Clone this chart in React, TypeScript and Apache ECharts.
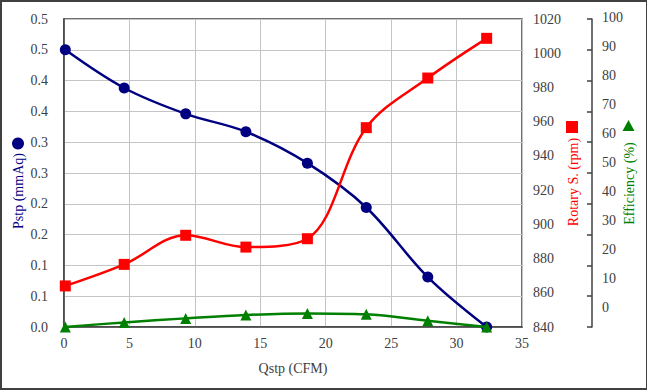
import React, { useEffect, useRef } from "react";
import * as echarts from "echarts";

// ---- data ----
const qstp = [0.1, 4.6, 9.3, 13.9, 18.6, 23.1, 27.8, 32.3];
const pstp = [0.45, 0.388, 0.346, 0.317, 0.266, 0.194, 0.081, 0.0];
const rpm = [864, 876.6, 893.6, 886.7, 891.6, 956.5, 985.5, 1008.7];
const efficiency = [0.0, 1.5, 2.8, 3.9, 4.4, 4.1, 2.0, 0.0];

const pstpTickLabels = ["0.0", "0.1", "0.1", "0.2", "0.2", "0.3", "0.3", "0.4", "0.4", "0.5", "0.5"];
const effTickValues = [0, 10, 20, 30, 40, 50, 60, 70, 80, 90, 100];

const FONT = "Liberation Serif";
const NAVY = "#000080";
const RED = "#FF0000";
const GREEN = "#008000";
const AXIS = "#404040";
const GRIDC = "#c4c4c4";

export default function App() {
  const ref = useRef<HTMLDivElement>(null);

  useEffect(() => {
    if (!ref.current) return;
    const chart = echarts.init(ref.current, undefined, { renderer: "svg" });
    const labelStyle = { fontFamily: FONT, fontSize: 14, color: AXIS };
    // efficiency labels drift upward relative to their ticks (as in the reference)
    const effRich: any = {};
    effTickValues.forEach((v) => {
      const d = 2 + 0.18 * (100 - v);
      effRich["e" + v] = { fontFamily: FONT, fontSize: 14, color: AXIS, padding: [0, 0, 2 * d, 0] };
    });
    const option: any = {
      animation: false,
      backgroundColor: "#ffffff",
      textStyle: { fontFamily: FONT, fontSize: 14, color: AXIS },
      grid: {
        left: 64,
        right: 125,
        top: 19,
        bottom: 63,
        show: true,
        borderColor: AXIS,
        borderWidth: 1.5,
        backgroundColor: "transparent",
      },
      xAxis: {
        type: "value",
        min: 0,
        max: 35,
        interval: 5,
        axisLine: { show: true, onZero: false, lineStyle: { color: AXIS, width: 1.5 } },
        axisTick: { show: false },
        axisLabel: { ...labelStyle, margin: 9, formatter: (v: number) => String(v) },
        splitLine: { show: true, lineStyle: { color: GRIDC, width: 1 } },
        name: "Qstp (CFM)",
        nameLocation: "middle",
        nameGap: 34,
        nameTextStyle: { fontFamily: FONT, fontSize: 14, color: AXIS },
      },
      yAxis: [
        {
          type: "value",
          min: 0,
          max: 0.5,
          interval: 0.05,
          position: "left",
          axisLine: { show: true, lineStyle: { color: AXIS, width: 1.5 } },
          axisTick: { show: false },
          axisLabel: {
            ...labelStyle,
            margin: 16,
            formatter: (v: number) => pstpTickLabels[Math.round(v / 0.05)] ?? "",
          },
          splitLine: { show: true, lineStyle: { color: GRIDC, width: 1 } },
        },
        {
          type: "value",
          min: 840,
          max: 1020,
          interval: 20,
          position: "right",
          axisLine: { show: false },
          axisTick: { show: false },
          axisLabel: { ...labelStyle, margin: 11, formatter: (v: number) => String(v) },
          splitLine: { show: false },
        },
        {
          type: "value",
          min: 0,
          max: 100,
          interval: 10,
          position: "right",
          offset: 70,
          axisLine: { show: true, lineStyle: { color: AXIS, width: 1.5 } },
          axisTick: { show: true, inside: true, length: 5, lineStyle: { color: AXIS, width: 1.5 } },
          axisLabel: {
            ...labelStyle,
            margin: 10,
            formatter: (v: number) => `{e${Math.round(v)}|${Math.round(v)}}`,
            rich: effRich,
          },
          splitLine: { show: false },
        },
      ],
      series: [
        {
          name: "Pstp (mmAq)",
          type: "line",
          yAxisIndex: 0,
          smooth: 0.35,
          data: qstp.map((q, i) => [q, pstp[i]]),
          symbol: "circle",
          symbolSize: 11,
          lineStyle: { color: NAVY, width: 2.5 },
          itemStyle: { color: NAVY },
          z: 3,
        },
        {
          name: "Rotary S. (rpm)",
          type: "line",
          yAxisIndex: 1,
          smooth: 0.35,
          data: qstp.map((q, i) => [q, rpm[i]]),
          symbol: "rect",
          symbolSize: 11,
          lineStyle: { color: RED, width: 2.5 },
          itemStyle: { color: RED },
          z: 4,
        },
        {
          name: "Efficiency (%)",
          type: "line",
          yAxisIndex: 2,
          smooth: 0.35,
          data: qstp.map((q, i) => [q, efficiency[i]]),
          symbol: "triangle",
          symbolSize: 11,
          lineStyle: { color: GREEN, width: 2.5 },
          itemStyle: { color: GREEN },
          z: 5,
        },
      ],
      graphic: [
        {
          type: "text",
          x: 18,
          y: 191,
          rotation: Math.PI / 2,
          style: {
            text: "Pstp (mmAq)",
            fill: NAVY,
            fontFamily: FONT,
            fontSize: 14,
            textAlign: "center",
            textVerticalAlign: "middle",
          },
        },
        { type: "circle", shape: { cx: 18, cy: 143.5, r: 6 }, style: { fill: NAVY } },
        {
          type: "text",
          x: 573,
          y: 182,
          rotation: Math.PI / 2,
          style: {
            text: "Rotary S. (rpm)",
            fill: RED,
            fontFamily: FONT,
            fontSize: 14,
            textAlign: "center",
            textVerticalAlign: "middle",
          },
        },
        { type: "rect", shape: { x: 566, y: 121, width: 12, height: 12 }, style: { fill: RED } },
        {
          type: "text",
          x: 629,
          y: 183.5,
          rotation: Math.PI / 2,
          style: {
            text: "Efficiency (%)",
            fill: GREEN,
            fontFamily: FONT,
            fontSize: 14,
            textAlign: "center",
            textVerticalAlign: "middle",
          },
        },
        {
          type: "polygon",
          shape: { points: [[628.5, 120], [634.5, 131], [622.5, 131]] },
          style: { fill: GREEN },
        },
      ],
    };
    chart.setOption(option);
    return () => chart.dispose();
  }, []);

  return (
    <div style={{ position: "absolute", left: 0, top: 0, width: 647, height: 390 }}>
      <div ref={ref} style={{ position: "absolute", left: 0, top: 0, width: 647, height: 390 }} />
      <div
        style={{
          position: "absolute",
          left: 0,
          top: 0,
          width: 647,
          height: 390,
          boxSizing: "border-box",
          borderTop: "2px solid #404040",
          borderLeft: "2px solid #404040",
          borderBottom: "2px solid #404040",
          borderRight: "1px solid #404040",
          pointerEvents: "none",
        }}
      />
    </div>
  );
}
